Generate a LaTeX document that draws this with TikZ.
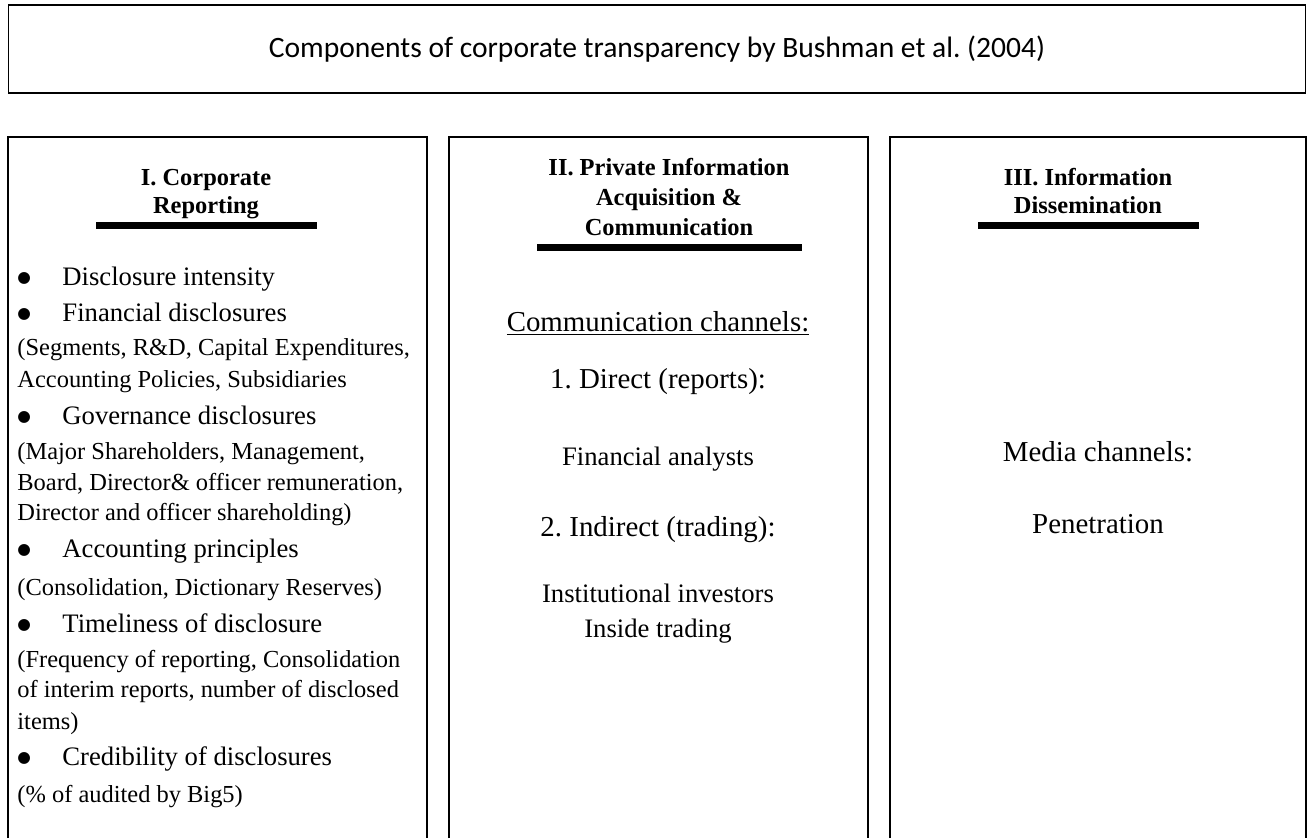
\documentclass[tikz,border=0pt]{standalone}
\usepackage{fontspec}
\setmainfont{Liberation Serif}
\newfontfamily\titlefont{Carlito}
\newfontfamily\symfont{DejaVu Sans}
\newcommand{\blt}{\makebox[20.25pt][l]{\raisebox{0.1em}{\symfont\fontsize{7}{7}\selectfont ●}}}
\tikzset{
  titlebox/.style={rectangle, draw, line width=0.7pt, minimum width=583.6pt, minimum height=39.6pt, font=\titlefont\fontsize{13.3}{15}\selectfont},
  panel/.style={line width=0.7pt},
  headbar/.style={line width=3.15pt},
  head/.style={inner sep=0pt, anchor=base, font=\fontsize{11}{12.6}\selectfont\bfseries},
  item/.style={inner sep=0pt, anchor=base west, font=\fontsize{12}{14}\selectfont},
  note/.style={inner sep=0pt, anchor=base west, font=\fontsize{11}{13}\selectfont},
  big/.style={inner sep=0pt, anchor=base, font=\fontsize{13}{15}\selectfont},
  plain/.style={inner sep=0pt, anchor=base, font=\fontsize{12}{14}\selectfont}
}
\begin{document}
\frenchspacing
\begin{tikzpicture}[x=0.45pt, y=-0.45pt]
  \useasboundingbox (0,0) rectangle (1311,838);

  % --- Title ---
  \node[titlebox] (title) at (657,49) {Components of corporate transparency by Bushman et al. (2004)};

  % --- Three columns (open at the bottom) ---
  \draw[panel] (8,838) -- (8,137) -- (427,137) -- (427,838);
  \draw[panel] (449,838) -- (449,137) -- (868,137) -- (868,838);
  \draw[panel] (890,838) -- (890,137) -- (1306,137) -- (1306,838);

  % --- Column I ---
  \node[head] (headA1) at (206,185) {I. Corporate};
  \node[head] (headA2) at (206,213) {Reporting};
  \draw[headbar] (96,225) -- (317,225);

  \node[item] (disc)   at (17,285) {\blt Disclosure intensity};
  \node[item] (fin)    at (17,321) {\blt Financial disclosures};
  \node[note] (finA)   at (17,355) {(Segments, R\&D, Capital Expenditures,};
  \node[note] (finB)   at (17,387) {Accounting Policies, Subsidiaries};
  \node[item] (gov)    at (17,424) {\blt Governance disclosures};
  \node[note] (govA)   at (17,459) {(Major Shareholders, Management,};
  \node[note] (govB)   at (17,490) {Board, Director\& officer remuneration,};
  \node[note] (govC)   at (17,520) {Director and officer shareholding)};
  \node[item] (acc)    at (17,557) {\blt Accounting principles};
  \node[note] (accA)   at (17,595) {(Consolidation, Dictionary Reserves)};
  \node[item] (time)   at (17,632) {\blt Timeliness of disclosure};
  \node[note] (timeA)  at (17,667) {(Frequency of reporting, Consolidation};
  \node[note] (timeB)  at (17,697) {of interim reports, number of disclosed};
  \node[note] (timeC)  at (17,729) {items)};
  \node[item] (cred)   at (17,765) {\blt Credibility of disclosures};
  \node[note] (credA)  at (17,802) {(\% of audited by Big5)};

  % --- Column II ---
  \node[head] (headB1) at (669,175) {II. Private Information};
  \node[head] (headB2) at (669,205) {Acquisition \&};
  \node[head] (headB3) at (669,235) {Communication};
  \draw[headbar] (537,247) -- (802,247);

  \node[big]   (chan)   at (658,331) {\underline{Communication channels:}};
  \node[big]   (direct) at (658,388) {1. Direct (reports):};
  \node[plain] (anal)   at (658,465) {Financial analysts};
  \node[big]   (indir)  at (658,536) {2. Indirect (trading):};
  \node[plain] (inst)   at (658,602) {Institutional investors};
  \node[plain] (inside) at (658,637) {Inside trading};

  % --- Column III ---
  \node[head] (headC1) at (1088,185) {III. Information};
  \node[head] (headC2) at (1088,213) {Dissemination};
  \draw[headbar] (978,225) -- (1199,225);

  \node[big] (media) at (1098,461) {Media channels:};
  \node[big] (pen)   at (1098,533) {Penetration};
\end{tikzpicture}
\end{document}
